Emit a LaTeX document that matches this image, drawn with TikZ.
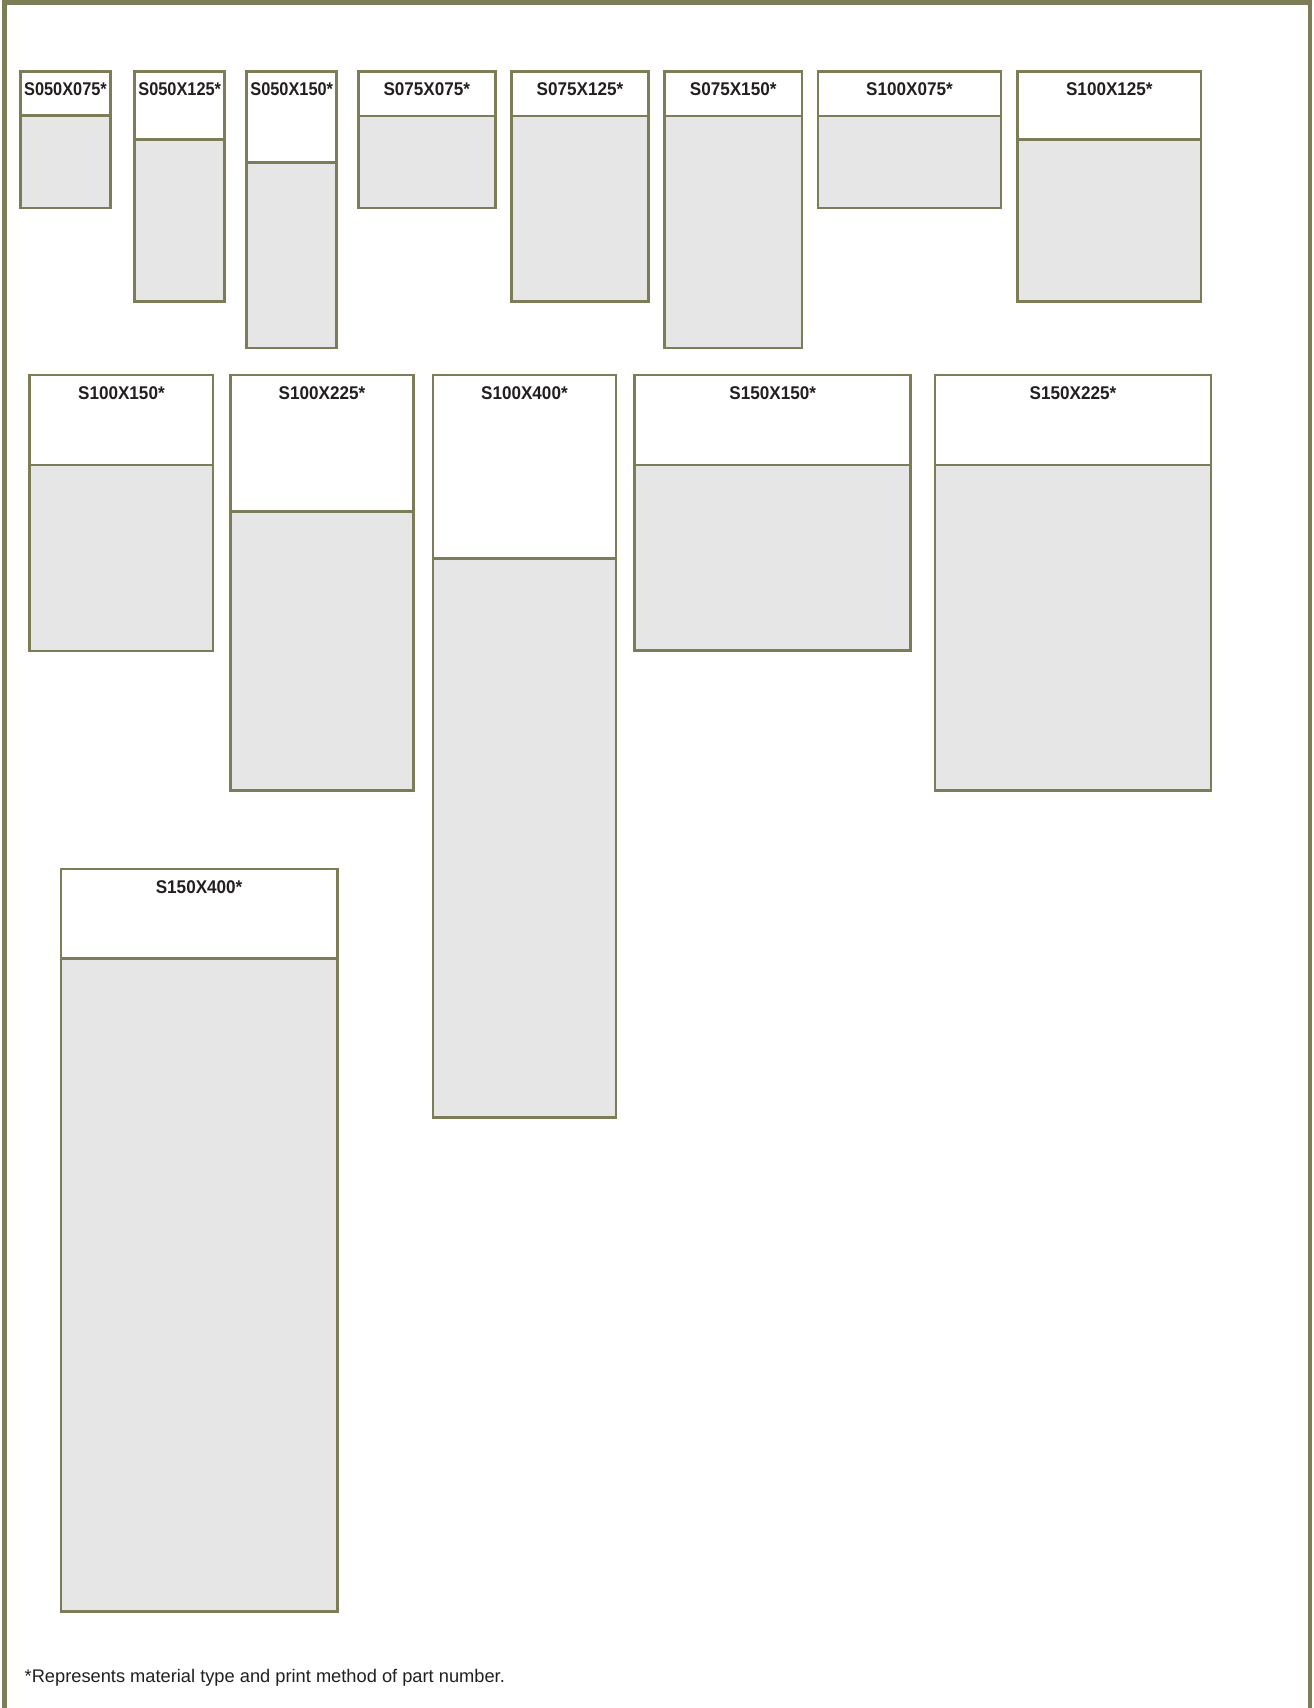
\documentclass[tikz,border=0pt]{standalone}
\usepackage{fontspec}
\setmainfont{Liberation Sans}
\newfontfamily\labfont[FakeStretch=0.93]{Liberation Sans}
\definecolor{olive}{RGB}{124,125,86}
\definecolor{panel}{RGB}{230,230,230}
\definecolor{ink}{RGB}{35,31,32}
\tikzset{
  frameline/.style={draw=olive, line width=3.5pt},
  bodybox/.style={draw=olive, line width=1.9pt, fill=panel},
  headbox/.style={draw=olive, line width=1.9pt, fill=white},
  lab/.style={anchor=base, inner sep=0pt, text=ink, font=\labfont\fontsize{13.8pt}{14pt}\selectfont\bfseries},
  foot/.style={anchor=base west, inner sep=0pt, text=ink, font=\fontsize{13.7pt}{14pt}\selectfont}
}
% \sizecard{name}{x1}{y1}{x2}{ydiv}{y2}{label}{xscale of label}
\newcommand{\sizecard}[8]{%
  \path[bodybox] (#2,#3) rectangle (#4,#6);
  \path[headbox] (#2,#3) rectangle (#4,#5);
  \node[lab] (#1) at ({(#2+#4)/2},{#3+24}) {\scalebox{#8}[1]{#7}};
}
\begin{document}
\begin{tikzpicture}[x=0.75pt,y=-0.75pt]
\useasboundingbox (0,0) rectangle (1313,1708);
\fill[white] (0,0) rectangle (1313,1708);
% frame
\coordinate (fbl) at (4.3,1708);
\coordinate (ftl) at (4.3,2.2);
\coordinate (ftr) at (1310,2.2);
\coordinate (fbr) at (1310,1708);
\draw[frameline] (fbl) -- (ftl) -- (ftr) -- (fbr);
% row 1
\sizecard{a1}{20.3}{71.7}{110.7}{115.3}{208}{S050X075*}{0.955}
\sizecard{a2}{134.7}{71.7}{224.7}{139.3}{301.3}{S050X125*}{0.955}
\sizecard{a3}{246.7}{71.7}{336.7}{162.3}{348}{S050X150*}{0.955}
\sizecard{a4}{358.3}{71.7}{495.3}{115.8}{208}{S075X075*}{1}
\sizecard{a5}{511.3}{71.7}{648.7}{116}{301.3}{S075X125*}{1}
\sizecard{a6}{664.3}{71.7}{802}{116}{348}{S075X150*}{1}
\sizecard{a7}{818}{71.7}{1001}{116}{208}{S100X075*}{1}
\sizecard{a8}{1017.7}{71.7}{1201}{139.3}{301.3}{S100X125*}{1}
% row 2
\sizecard{b1}{29.6}{375}{213.2}{465}{651}{S100X150*}{1}
\sizecard{b2}{230.4}{375}{413.6}{511.7}{790.7}{S100X225*}{1}
\sizecard{b3}{432.8}{375}{616}{558.7}{1117.5}{S100X400*}{1}
\sizecard{b4}{634.7}{375}{910.7}{465}{650.7}{S150X150*}{1}
\sizecard{b5}{934.8}{375}{1211.2}{465}{790.7}{S150X225*}{1}
% row 3
\sizecard{c1}{60.8}{869}{337.4}{958.3}{1611.3}{S150X400*}{1}
% footnote
\node[foot] (note) at (24.4,1682.3) {*Represents material type and print method of part number.};
\end{tikzpicture}
\end{document}
